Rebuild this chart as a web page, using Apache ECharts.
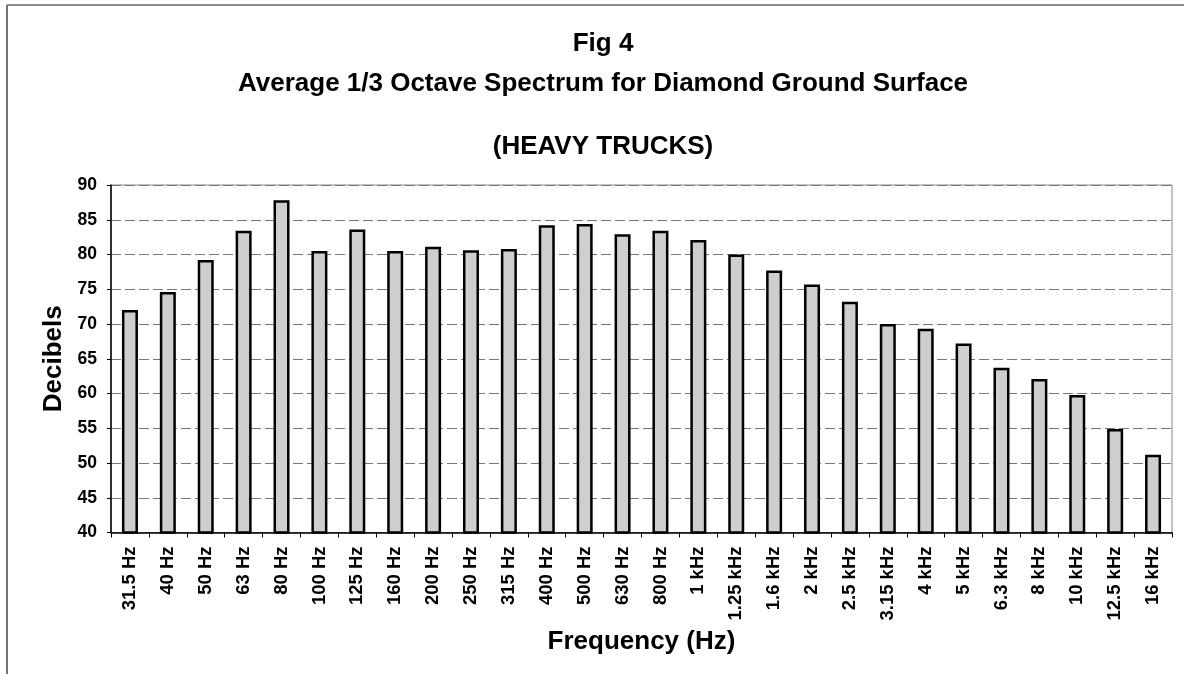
<!DOCTYPE html>
<html>
<head>
<meta charset="utf-8">
<script src="https://cdn.jsdelivr.net/npm/echarts@6/dist/echarts.min.js"></script>
<style>
  html, body { margin: 0; padding: 0; background: #fff; }
  #chart { width: 1184px; height: 674px; }
</style>
</head>
<body>
<div id="chart"></div>
<script>
// 1/3 octave bands
const bands = ['31.5 Hz', '40 Hz', '50 Hz', '63 Hz', '80 Hz', '100 Hz', '125 Hz', '160 Hz', '200 Hz', '250 Hz',
  '315 Hz', '400 Hz', '500 Hz', '630 Hz', '800 Hz', '1 kHz', '1.25 kHz', '1.6 kHz', '2 kHz', '2.5 kHz',
  '3.15 kHz', '4 kHz', '5 kHz', '6.3 kHz', '8 kHz', '10 kHz', '12.5 kHz', '16 kHz']
// average level, dB
const levels = [72.0, 74.6, 79.2, 83.4, 87.8, 80.5, 83.6, 80.5, 81.1, 80.6,
  80.8, 84.2, 84.4, 82.9, 83.4, 82.1, 80.0, 77.7, 75.7, 73.2,
  70.0, 69.3, 67.2, 63.7, 62.1, 59.8, 54.9, 51.2]
const yTicks = [40, 45, 50, 55, 60, 65, 70, 75, 80, 85, 90]

const font = '"Liberation Sans", Arial, sans-serif'
const titleStyle = { fontSize: 26, fontWeight: 'bold', fontFamily: font, color: '#000' }
let chart = echarts.init(document.getElementById('chart'))

let option = {
  backgroundColor: '#fff',
  animation: false,
  textStyle: { fontFamily: font, color: '#000' },
  title: [
    { text: 'Fig 4', left: 598, top: 26, textAlign: 'center', textStyle: titleStyle },
    { text: 'Average 1/3 Octave Spectrum for Diamond Ground Surface', left: 598, top: 66, textAlign: 'center', textStyle: titleStyle },
    { text: '(HEAVY TRUCKS)', left: 598, top: 129, textAlign: 'center', textStyle: titleStyle }
  ],
  // outer frame of the figure (left and top edges visible)
  graphic: [
    { type: 'line', shape: { x1: 7, y1: 5, x2: 7, y2: 674 }, style: { stroke: '#444', lineWidth: 1.5 } },
    { type: 'line', shape: { x1: 7, y1: 5, x2: 1184, y2: 5 }, style: { stroke: '#666', lineWidth: 1.5 } }
  ],
  grid: {
    left: 111, right: 12, top: 185, bottom: 141.5,
    show: true, borderColor: '#888', borderWidth: 1
  },
  xAxis: {
    type: 'category',
    data: bands,
    name: 'Frequency (Hz)',
    nameLocation: 'middle',
    nameGap: 93,
    nameTextStyle: titleStyle,
    axisLine: { lineStyle: { color: '#000', width: 1.5 } },
    axisTick: { show: true, length: 5, lineStyle: { color: '#000' } },
    axisLabel: {
      rotate: 90, interval: 0, margin: 14,
      fontSize: 18.5, fontWeight: 'bold', fontFamily: font, color: '#000'
    },
    splitLine: { show: false }
  },
  yAxis: {
    type: 'value',
    min: yTicks[0],
    max: yTicks[yTicks.length - 1],
    interval: 5,
    name: 'Decibels',
    nameLocation: 'middle',
    nameGap: 44,
    nameTextStyle: titleStyle,
    axisLine: { show: true, lineStyle: { color: '#000', width: 1.5 } },
    axisTick: { show: true, length: 4, lineStyle: { color: '#000' } },
    axisLabel: { margin: 14, fontSize: 17.5, fontWeight: 'bold', fontFamily: font, color: '#000' },
    splitLine: { show: true, lineStyle: { color: '#777', width: 1, type: [10, 4] } }
  },
  series: [
    {
      type: 'bar',
      data: levels,
      barWidth: 16,
      itemStyle: { color: '#cecece', borderColor: '#000', borderWidth: 2.5 }
    }
  ]
}
chart.setOption(option)
</script>
</body>
</html>
